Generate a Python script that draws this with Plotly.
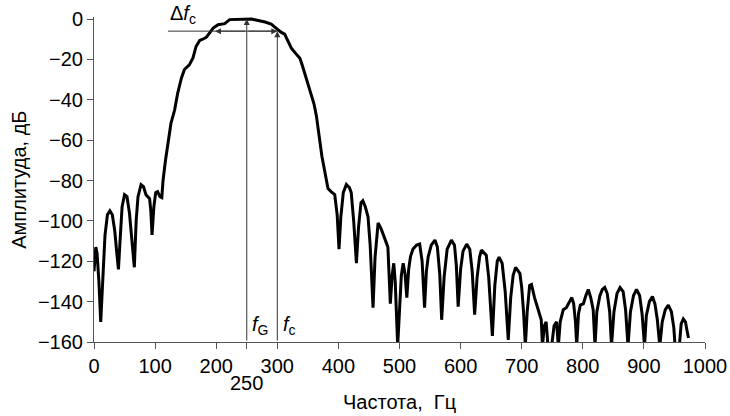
import plotly.graph_objects as go

# ---- data ----
freq_left = [0, 1.5, 3, 5, 8, 11, 14, 18, 22, 26, 30, 34, 37, 40, 43, 46, 50, 54, 58, 62, 66,
             69, 72, 77, 81, 85, 91, 93, 95, 98, 101, 104, 108, 111]
amp_left = [-125, -115, -113, -116, -130, -150, -128, -107, -97, -95, -97, -105, -115, -124, -108, -93, -87, -88, -96, -110, -123,
            -100, -88, -82, -83, -87, -89, -95, -107, -93, -86, -85.5, -88, -88.5]

freq_main = [113, 117, 121, 126, 132, 137, 143, 148, 156, 162, 167, 173, 178, 184, 189, 195, 203, 214, 222, 230,
             240, 250, 258, 265, 272, 280, 290, 296, 301, 306, 312, 318, 323, 330, 337, 341, 345, 351, 356, 360,
             364, 369, 373, 378, 383, 388, 394]
amp_main = [-80, -70, -62, -51.6, -45, -36.7, -29.3, -25, -22.7, -19.3, -13.6, -10.6, -10, -9, -7, -4.5, -2.8, -2.3, -0.3, -0.2,
            0, 0, 0, -0.5, -0.8, -1.5, -2.5, -4, -5.7, -6.5, -7.5, -11, -14.4, -17, -19.5, -23, -27, -33, -37.5, -42,
            -48, -60, -68, -76, -84, -85.5, -87]

freq_right = [398, 401, 404, 408, 413, 418, 421, 425, 429.5, 433, 437, 440, 444, 448.5, 452, 456.7, 460, 465, 470, 476,
              481, 485, 488, 490.6, 493, 497, 500, 503, 506, 509, 512, 515, 518, 522, 528, 533, 537, 541, 544, 547,
              552, 558, 562, 566, 569, 573, 578, 585, 590, 593, 596, 600, 604, 610, 615, 619, 623, 627, 631, 634,
              642, 646, 652, 656, 660, 663, 668, 673, 678, 682, 686, 690, 697, 700, 703, 706, 709, 713, 716, 721,
              727, 732, 734, 737, 740, 743, 749, 753, 757, 760, 763, 768, 773, 778, 782, 785, 788, 790, 793, 796,
              801, 805, 809, 813, 817, 820, 823, 828, 832, 836, 840, 844, 847, 851, 856, 861, 866, 870, 874, 878,
              883, 888, 893, 897, 901, 904, 909, 914, 918, 922, 926, 930, 935, 940, 945, 949, 951, 958, 961, 964.5,
              968, 971, 973]
amp_right = [-97, -114, -98, -86, -82, -83.5, -86, -100, -121, -103, -91, -90, -93, -98, -112, -143, -118, -101, -104, -108.5,
             -113, -141, -127, -121, -130, -162, -140, -127, -121, -126, -138, -124, -117.7, -114, -112, -111.5, -120, -143, -125, -117.7,
             -112, -109.5, -113, -127, -149, -128, -114, -109.5, -112, -122, -142.5, -124, -115, -111.5, -114, -125, -146.5, -128, -118, -114.5,
             -117, -128, -157, -132, -120, -118, -121, -135, -159, -138, -127, -123, -126, -133, -145, -162, -145, -132, -131.5, -138,
             -144, -149, -162, -152, -150, -162, -162, -152, -150, -162, -150, -144, -143, -140, -138, -141, -150, -162, -146, -141.7,
             -141, -137, -134, -138, -144, -162, -145, -137, -134, -133, -136, -145, -162, -145, -136, -133, -135, -144, -162, -145,
             -137, -134, -137, -146, -162, -147, -140, -137.5, -141, -149, -162, -150, -144, -141.7, -145, -153, -162, -162, -151, -148.6,
             -150, -155, -158]

assert len(freq_left) == len(amp_left)
assert len(freq_main) == len(amp_main)
assert len(freq_right) == len(amp_right)

freq = freq_left + freq_main + freq_right
amp = amp_left + amp_main + amp_right

x_ticks = [0, 100, 200, 250, 300, 400, 500, 600, 700, 800, 900, 1000]
x_ticktext = ["0", "100", "200", "", "300", "400", "500", "600", "700", "800", "900", "1000"]
y_ticks = [0, -20, -40, -60, -80, -100, -120, -140, -160]

f_g = 250
f_c = 300
level_c = -6
band_left = 198
band_line_start = 121

FONT = "Liberation Sans, Arial, sans-serif"
AX = "#555555"
FS = 20

fig = go.Figure()
fig.add_trace(go.Scatter(x=freq, y=amp, mode="lines", hoverinfo="skip",
                         line=dict(color="black", width=3), showlegend=False))

fig.update_layout(
    width=730, height=416,
    margin=dict(l=94, r=25, t=17, b=74, autoexpand=False),
    paper_bgcolor="white", plot_bgcolor="white",
    font=dict(family=FONT, size=FS, color="#000"),
    xaxis=dict(range=[0, 1000], tickvals=x_ticks, ticktext=x_ticktext,
               showgrid=False, zeroline=False, showline=True, linecolor=AX, linewidth=1,
               ticks="outside", ticklen=6, tickcolor=AX, tickwidth=1),
    yaxis=dict(range=[-160, 1], tickvals=y_ticks,
               showgrid=False, zeroline=False, showline=True, linecolor=AX, linewidth=1,
               ticks="outside", ticklen=6, tickcolor=AX, tickwidth=1),
)

ann = []
# axis titles
ann.append(dict(text="Амплитуда, дБ", xref="paper", yref="paper", x=-0.124, y=0.5,
                textangle=-90, showarrow=False, xanchor="center", yanchor="middle",
                font=dict(size=FS)))
ann.append(dict(text="Частота,  Гц", xref="paper", yref="paper", x=0.5, y=-0.185,
                showarrow=False, xanchor="center", yanchor="middle", font=dict(size=FS)))
ann.append(dict(text=str(f_g), xref="x", yref="paper", x=f_g, y=-0.126,
                showarrow=False, xanchor="center", yanchor="middle", font=dict(size=FS)))
# vertical arrows
ann.append(dict(x=f_g, y=0, ax=f_g, ay=-160, xref="x", yref="y", axref="x", ayref="y",
                text="", showarrow=True, arrowhead=2, arrowsize=1.2, arrowwidth=1, arrowcolor="#333"))
ann.append(dict(x=f_c, y=level_c, ax=f_c, ay=-160, xref="x", yref="y", axref="x", ayref="y",
                text="", showarrow=True, arrowhead=2, arrowsize=1.2, arrowwidth=1, arrowcolor="#333"))
# horizontal band arrows
ann.append(dict(x=band_left, y=level_c, ax=f_g, ay=level_c, xref="x", yref="y", axref="x", ayref="y",
                text="", showarrow=True, arrowhead=2, arrowsize=1.2, arrowwidth=1, arrowcolor="#333"))
ann.append(dict(x=f_c, y=level_c, ax=f_g, ay=level_c, xref="x", yref="y", axref="x", ayref="y",
                text="", showarrow=True, arrowhead=2, arrowsize=1.2, arrowwidth=1, arrowcolor="#333"))
# labels
ann.append(dict(text="Δ<i>f</i><sub>c</sub>", x=145, y=1.009, xref="x", yref="paper",
                showarrow=False, xanchor="center", yanchor="middle", font=dict(size=FS)))
ann.append(dict(text="<i>f</i><sub>G</sub>", x=255, y=-152, xref="x", yref="y",
                showarrow=False, xanchor="left", yanchor="middle", font=dict(size=FS)))
ann.append(dict(text="<i>f</i><sub>c</sub>", x=306, y=-152, xref="x", yref="y",
                showarrow=False, xanchor="left", yanchor="middle", font=dict(size=FS)))
fig.update_layout(annotations=ann)

fig.add_shape(type="line", x0=band_line_start, x1=f_c, y0=level_c, y1=level_c,
              xref="x", yref="y", line=dict(color="#333", width=1))

fig.write_html("out.html", config={"displayModeBar": False},
               post_script="document.body.style.margin='0';document.body.style.padding='0';")
